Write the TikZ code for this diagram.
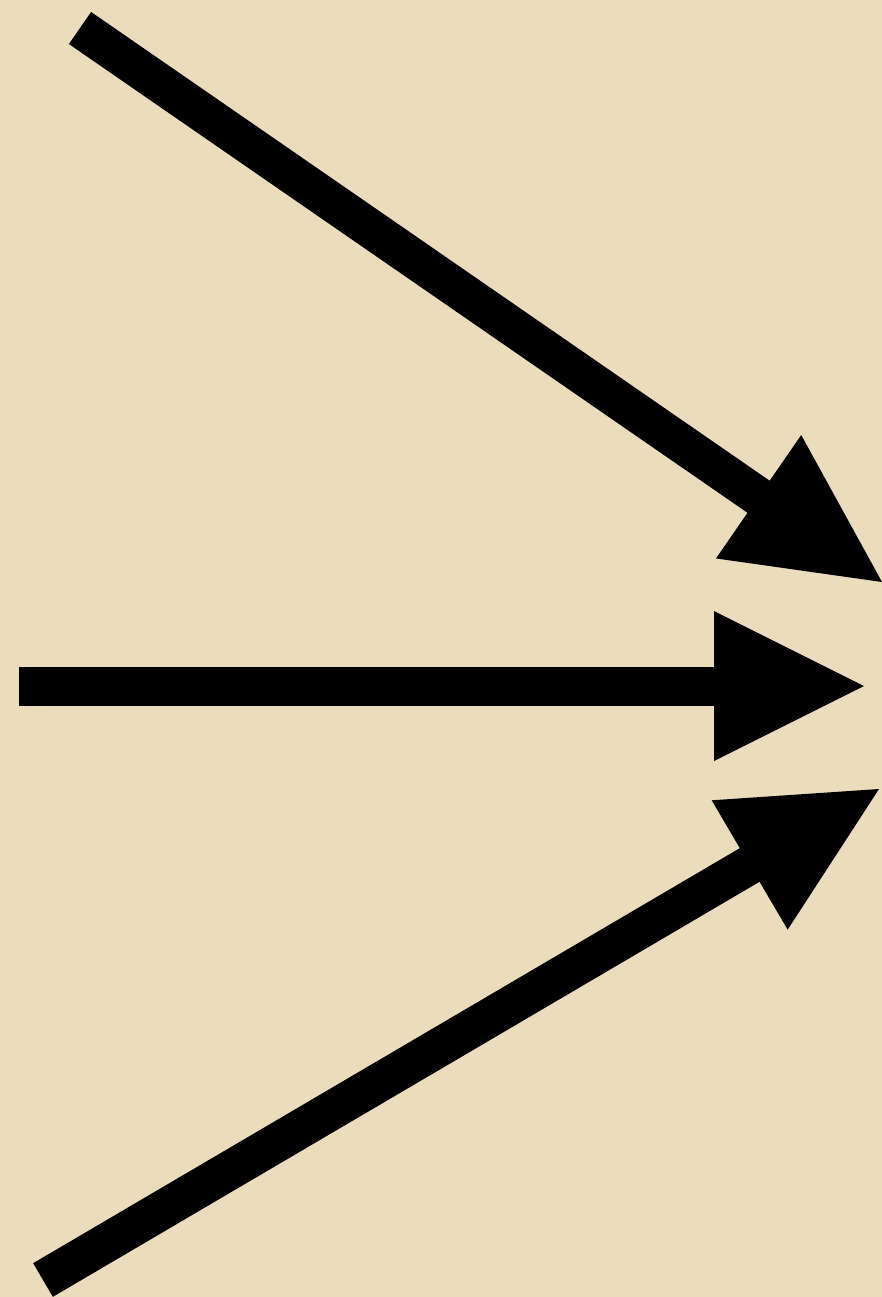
\documentclass[tikz,border=0pt]{standalone}
\usetikzlibrary{calc}
\definecolor{bg}{HTML}{EBDDBB}
\tikzset{
  shaft/.style={line width=39pt, line cap=butt, draw=black},
  head/.style={fill=black, draw=none}
}
\begin{document}
\begin{tikzpicture}[x=1pt,y=-1pt]
\fill[bg] (0,0) rectangle (882,1297);
\useasboundingbox (0,0) rectangle (882,1297);
% start and tip coordinates
\coordinate (s1) at (80,28);   \coordinate (t1) at (882,582);
\coordinate (s2) at (19,686);  \coordinate (t2) at (864,686);
\coordinate (s3) at (43,1280); \coordinate (t3) at (879,789);
\foreach \i in {1,2,3}{
  \coordinate (b\i) at ($(t\i)!150pt!(s\i)$);
  \draw[shaft] (s\i) -- ($(b\i)!20pt!(t\i)$);
  \fill[head] (t\i) -- ($(b\i)!75pt!90:(t\i)$) -- ($(b\i)!75pt!-90:(t\i)$) -- cycle;
}
\end{tikzpicture}
\end{document}
